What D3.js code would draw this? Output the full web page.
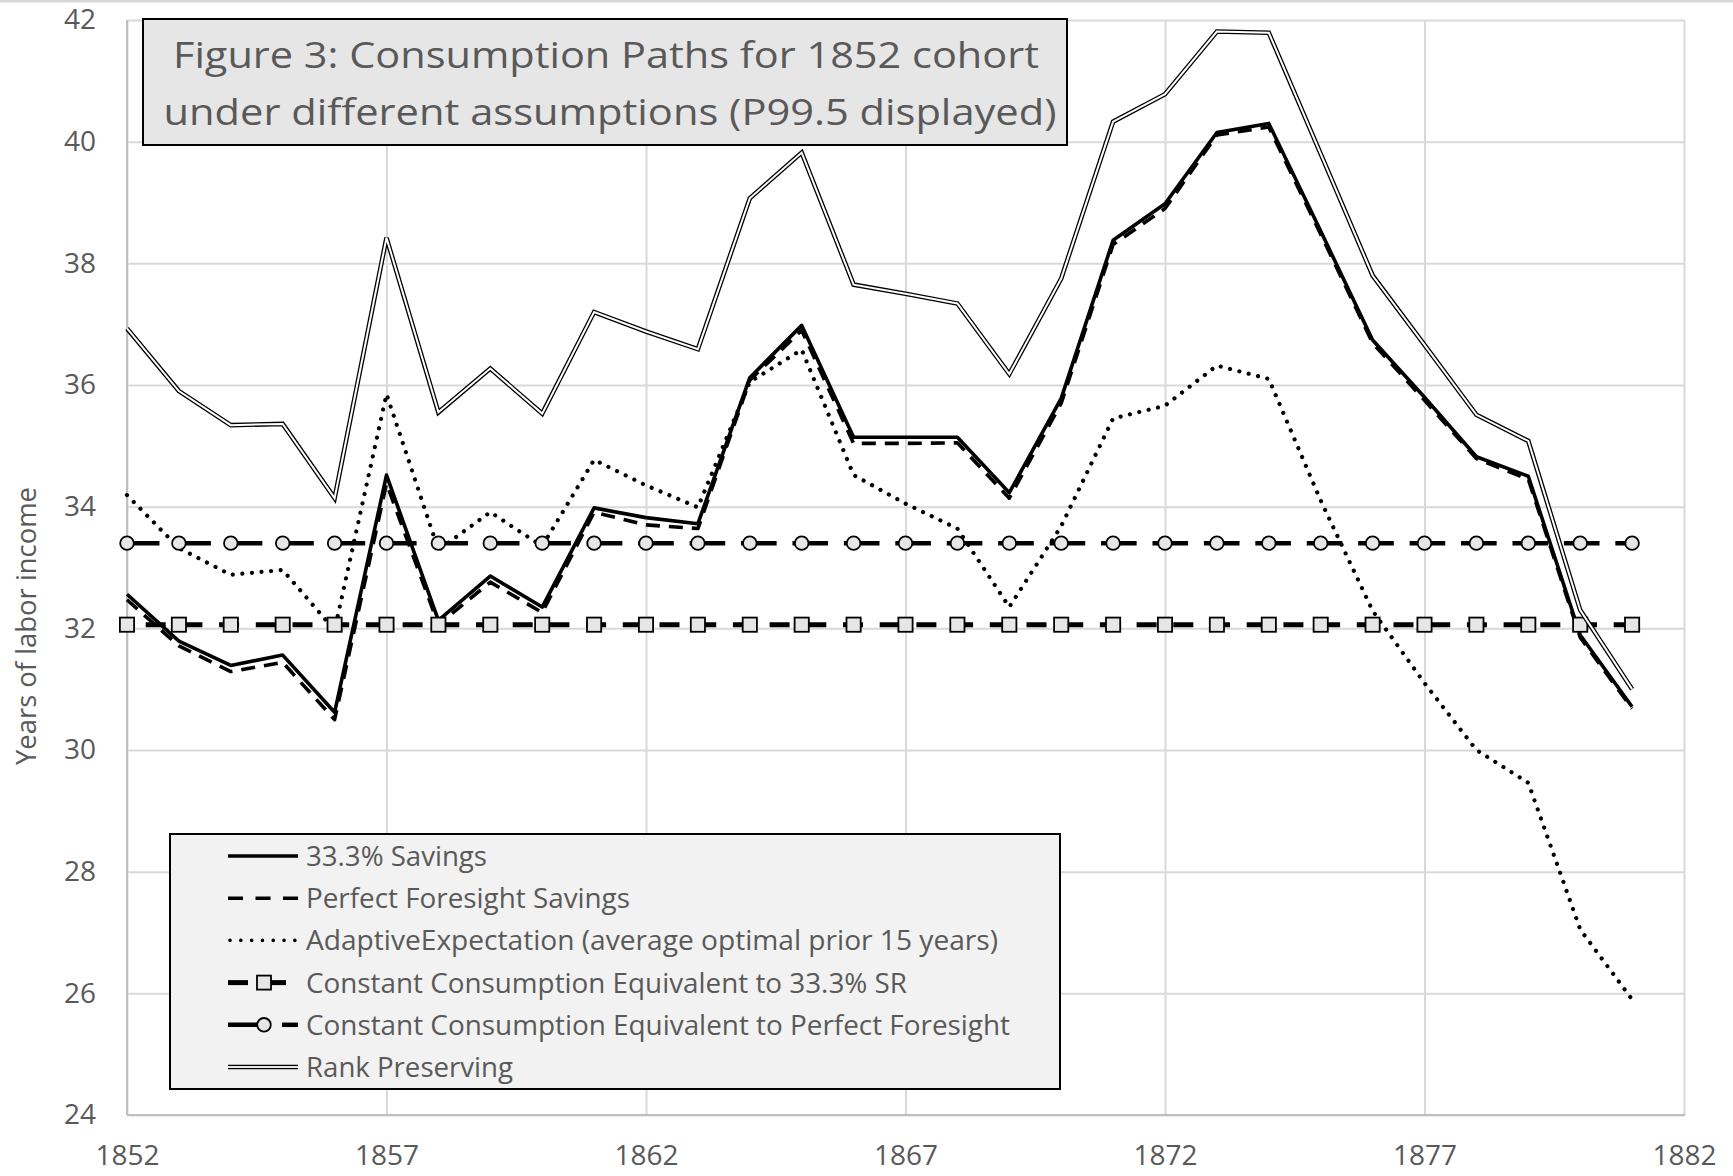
<!DOCTYPE html>
<html><head><meta charset="utf-8">
<script src="https://cdn.jsdelivr.net/npm/d3@7"></script>
<style>
body{margin:0;background:#fff}
svg{display:block}
text{font-family:"Open Sans",sans-serif}
</style>
</head><body>
<svg id="c" width="1733" height="1176"></svg>
<script>
// ---------------- DATA ----------------
const years = [1852,1853,1854,1855,1856,1857,1858,1859,1860,1861,1862,1863,1864,1865,1866,1867,1868,1869,1870,1871,1872,1873,1874,1875,1876,1877,1878,1879,1880,1881];
const savings33 = [32.56,31.79,31.39,31.56,30.62,34.52,32.13,32.86,32.35,33.98,33.82,33.72,36.12,36.98,35.14,35.14,35.14,34.23,35.78,38.38,38.98,40.15,40.30,38.53,36.74,35.80,34.82,34.50,31.89,30.71];
const perfectForesight = [32.47,31.71,31.29,31.44,30.50,34.38,32.06,32.76,32.26,33.91,33.70,33.64,36.08,36.90,35.04,35.04,35.05,34.14,35.70,38.31,38.90,40.11,40.24,38.48,36.69,35.75,34.79,34.45,31.85,30.68];
const adaptive = [34.19,33.32,32.88,32.96,31.97,35.85,33.29,33.91,33.35,34.77,34.35,33.99,36.05,36.58,34.52,34.05,33.64,32.35,33.68,35.45,35.66,36.32,36.10,34.10,32.29,31.10,30.00,29.46,27.05,25.90];
const constSR = [32.06,32.06,32.06,32.06,32.06,32.06,32.06,32.06,32.06,32.06,32.06,32.06,32.06,32.06,32.06,32.06,32.06,32.06,32.06,32.06,32.06,32.06,32.06,32.06,32.06,32.06,32.06,32.06,32.06,32.06];
const constPF = [33.40,33.40,33.40,33.40,33.40,33.40,33.40,33.40,33.40,33.40,33.40,33.40,33.40,33.40,33.40,33.40,33.40,33.40,33.40,33.40,33.40,33.40,33.40,33.40,33.40,33.40,33.40,33.40,33.40,33.40];
const rankPreserving = [36.93,35.90,35.34,35.36,34.14,38.42,35.55,36.27,35.53,37.20,36.88,36.59,39.07,39.82,37.65,37.50,37.34,36.18,37.75,40.33,40.78,41.81,41.79,39.80,37.80,36.66,35.51,35.08,32.30,31.00];
const xTicks = [1852,1857,1862,1867,1872,1877,1882];
const yTicks = [24,26,28,30,32,34,36,38,40,42];
const seriesNames = ["33.3% Savings","Perfect Foresight Savings","AdaptiveExpectation (average optimal prior 15 years)","Constant Consumption Equivalent to 33.3% SR","Constant Consumption Equivalent to Perfect Foresight","Rank Preserving"];
const titleLines = ["Figure 3: Consumption Paths for 1852 cohort","under different assumptions (P99.5 displayed)"];
const yTitle = "Years of labor income";

// ---------------- LAYOUT ----------------
const L = 127, R = 1684, T = 20, B = 1115;
const svg = d3.select("#c");
const x = d3.scaleLinear().domain([1852,1882]).range([L,R]);
const y = d3.scaleLinear().domain([24,42]).range([B,T]);
const textCol = "#595959";

svg.append("rect").attr("x",0).attr("y",0).attr("width",1733).attr("height",2.5).attr("fill","#d9d9d9");

// gridlines + y labels
const gy = svg.append("g").attr("transform",`translate(${L},0)`)
  .call(d3.axisLeft(y).tickValues(yTicks).tickSizeInner(-(R-L)).tickSizeOuter(0).tickPadding(31).tickFormat(d3.format("d")));
gy.select(".domain").remove();
gy.selectAll("line").attr("stroke","#d9d9d9").attr("stroke-width",2);
gy.selectAll("text").attr("fill",textCol).style("font-size","28px");

const gx = svg.append("g").attr("transform",`translate(0,${B})`)
  .call(d3.axisBottom(x).tickValues(xTicks).tickSizeInner(-(B-T)).tickSizeOuter(0).tickPadding(30).tickFormat(d3.format("d")));
gx.select(".domain").remove();
gx.selectAll("line").attr("stroke","#d9d9d9").attr("stroke-width",2);
gx.selectAll("text").attr("fill",textCol).style("font-size","28px");

// axis lines
svg.append("line").attr("x1",L).attr("x2",L).attr("y1",T).attr("y2",B).attr("stroke","#bfbfbf").attr("stroke-width",2);
svg.append("line").attr("x1",L).attr("x2",R+1).attr("y1",B).attr("y2",B).attr("stroke","#bfbfbf").attr("stroke-width",2);

// y title
svg.append("text").attr("transform","translate(36,626) rotate(-90)")
  .attr("text-anchor","middle").attr("fill",textCol).style("font-size","27px")
  .attr("textLength",278).attr("lengthAdjust","spacingAndGlyphs").text(yTitle);

// ---------------- SERIES ----------------
const line = d3.line().x((d,i)=>x(years[i])).y(d=>y(d));
const g = svg.append("g");

const styles = [
  {data:savings33, w:3.6, dash:null},
  {data:perfectForesight, w:3.6, dash:"14,9"},
  {data:adaptive, w:4.2, dash:"0.01,9.6", cap:"round"},
  {data:constSR, w:5, dash:"20,16.7", offset:18, marker:"square"},
  {data:constPF, w:4.5, dash:"35.6,15.83", offset:3.13, marker:"circle"},
  {data:rankPreserving, double:true}
];

styles.forEach(s=>{
  if (s.double){
    g.append("path").attr("d",line(s.data)).attr("fill","none").attr("stroke","#000").attr("stroke-width",4.6).attr("stroke-linejoin","miter");
    g.append("path").attr("d",line(s.data)).attr("fill","none").attr("stroke","#fff").attr("stroke-width",2.0).attr("stroke-linejoin","miter");
    return;
  }
  const p = g.append("path").attr("d",line(s.data)).attr("fill","none").attr("stroke","#000")
    .attr("stroke-width",s.w).attr("stroke-linejoin","round").attr("stroke-linecap",s.cap||"butt");
  if (s.dash) p.attr("stroke-dasharray",s.dash);
  if (s.offset) p.attr("stroke-dashoffset",s.offset);
  if (s.marker==="square"){
    g.selectAll(null).data(s.data).enter().append("rect")
      .attr("x",(d,i)=>x(years[i])-7.1).attr("y",d=>y(d)-7.1).attr("width",14.2).attr("height",14.2)
      .attr("fill","#e6e6e6").attr("stroke","#000").attr("stroke-width",1.8);
  }
  if (s.marker==="circle"){
    g.selectAll(null).data(s.data).enter().append("circle")
      .attr("cx",(d,i)=>x(years[i])).attr("cy",d=>y(d)).attr("r",6.8)
      .attr("fill","#e6e6e6").attr("stroke","#000").attr("stroke-width",1.8);
  }
});

// ---------------- TITLE ----------------
svg.append("rect").attr("x",143).attr("y",19).attr("width",924).attr("height",126)
  .attr("fill","#e7e6e6").attr("stroke","#000").attr("stroke-width",2);
const titleW = [866,893], titleY = [68,125], titleX = [606,610];
titleLines.forEach((t,i)=>{
  svg.append("text").attr("x",titleX[i]).attr("y",titleY[i]).attr("text-anchor","middle")
    .attr("fill",textCol).style("font-size","37px")
    .attr("textLength",titleW[i]).attr("lengthAdjust","spacingAndGlyphs").text(t);
});

// ---------------- LEGEND ----------------
svg.append("rect").attr("x",170).attr("y",834).attr("width",890).attr("height",255)
  .attr("fill","#f2f2f2").attr("stroke","#000").attr("stroke-width",2);
const legW = [181,324,692,601,704,207];
const lx0 = 228, lx1 = 298, tx = 306, ly0 = 856, ldy = 42.2;
seriesNames.forEach((name,i)=>{
  const cy = ly0 + i*ldy;
  const lg = svg.append("g");
  if (i===0){
    lg.append("line").attr("x1",lx0).attr("x2",lx1).attr("y1",cy).attr("y2",cy).attr("stroke","#000").attr("stroke-width",3.6);
  } else if (i===1){
    lg.append("line").attr("x1",lx0).attr("x2",lx1).attr("y1",cy).attr("y2",cy).attr("stroke","#000").attr("stroke-width",3.6).attr("stroke-dasharray","15,12.5");
  } else if (i===2){
    lg.append("line").attr("x1",lx0+2).attr("x2",lx1).attr("y1",cy).attr("y2",cy).attr("stroke","#000").attr("stroke-width",3.6).attr("stroke-linecap","round").attr("stroke-dasharray","0.01,10.8");
  } else if (i===3){
    lg.append("line").attr("x1",lx0).attr("x2",248).attr("y1",cy).attr("y2",cy).attr("stroke","#000").attr("stroke-width",5);
    lg.append("line").attr("x1",264).attr("x2",286).attr("y1",cy).attr("y2",cy).attr("stroke","#000").attr("stroke-width",5);
    lg.append("rect").attr("x",257).attr("y",cy-7).attr("width",14).attr("height",14).attr("fill","#e6e6e6").attr("stroke","#000").attr("stroke-width",1.8);
  } else if (i===4){
    lg.append("line").attr("x1",lx0).attr("x2",264).attr("y1",cy).attr("y2",cy).attr("stroke","#000").attr("stroke-width",4.5);
    lg.append("line").attr("x1",282).attr("x2",lx1).attr("y1",cy).attr("y2",cy).attr("stroke","#000").attr("stroke-width",4.5);
    lg.append("circle").attr("cx",264).attr("cy",cy).attr("r",6.8).attr("fill","#e6e6e6").attr("stroke","#000").attr("stroke-width",1.8);
  } else {
    lg.append("line").attr("x1",lx0).attr("x2",lx1).attr("y1",cy).attr("y2",cy).attr("stroke","#000").attr("stroke-width",4.6);
    lg.append("line").attr("x1",lx0).attr("x2",lx1).attr("y1",cy).attr("y2",cy).attr("stroke","#e6e6e6").attr("stroke-width",2);
  }
  svg.append("text").attr("x",tx).attr("y",cy+10).attr("fill",textCol).style("font-size","27px")
    .attr("textLength",legW[i]).attr("lengthAdjust","spacingAndGlyphs").text(name);
});
</script>
</body></html>
